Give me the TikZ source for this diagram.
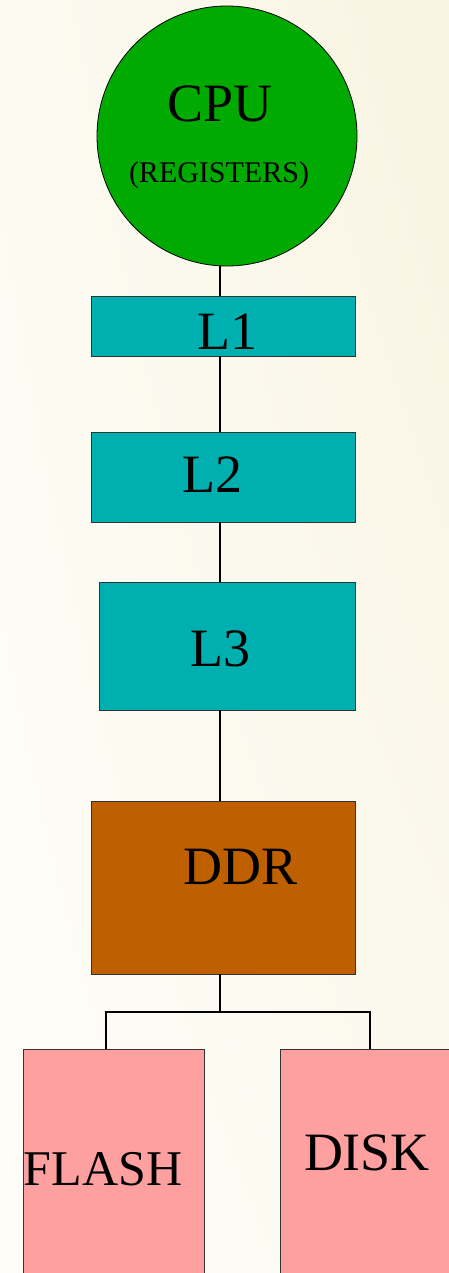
\documentclass[tikz,border=0pt]{standalone}
\usepackage{fontspec}
\setmainfont{Liberation Serif}
\usetikzlibrary{shadings}
\begin{document}
\begin{tikzpicture}[x=1pt,y=-1pt,
  box/.style={draw=black!80,line width=0.8pt,rectangle,inner sep=0pt},
  cache/.style={box,fill=cachecol},
  store/.style={box,fill=storecol},
  lbl/.style={anchor=base,inner sep=0pt,font=\fontsize{54}{60}\selectfont},
  wire/.style={line width=1.8pt,black}]
\definecolor{cpucol}{RGB}{0,170,0}
\definecolor{cachecol}{RGB}{0,176,176}
\definecolor{ddrcol}{RGB}{191,96,0}
\definecolor{storecol}{RGB}{255,160,160}
\definecolor{bgA}{RGB}{254,253,248}
\definecolor{bgB}{RGB}{248,244,226}
% page and soft cream background
\useasboundingbox (0,0) rectangle (449,1273);
\clip (0,0) rectangle (449,1273);
\shade[lower left=bgA,lower right=bgA!60!bgB,upper left=bgA!70!bgB,upper right=bgB]
  (0,0) rectangle (449,1273);
% memory hierarchy blocks
\node[circle,draw=black,line width=0.8pt,fill=cpucol,minimum size=260pt,inner sep=0pt] (cpu) at (227,136) {};
\node[cache,minimum width=264pt,minimum height=60pt]  (l1)  at (223,326)   {};
\node[cache,minimum width=264pt,minimum height=90pt]  (l2)  at (223,477)   {};
\node[cache,minimum width=256pt,minimum height=128pt] (l3)  at (227,646)   {};
\node[box,fill=ddrcol,minimum width=264pt,minimum height=173pt] (ddr) at (223,887.5) {};
\node[store,minimum width=181pt,minimum height=260pt,anchor=north] (flash) at (113.5,1049) {};
\node[store,minimum width=190pt,minimum height=260pt,anchor=north] (disk)  at (375,1049) {};
% labels
\node[lbl] (tcpu) at (220,122) {CPU};
\node[anchor=base,inner sep=0pt,font=\fontsize{30}{34}\selectfont] (treg) at (219,183) {(REGISTERS)};
\node[lbl] (tl1) at (227,349) {L1};
\node[lbl] (tl2) at (212,492) {L2};
\node[lbl] (tl3) at (220,666) {L3};
\node[lbl] (tddr) at (241,884) {DDR};
\node[anchor=base,inner sep=0pt,font=\fontsize{50}{56}\selectfont] (tflash) at (103,1185.5) {FLASH};
\node[lbl] (tdisk) at (367,1170) {DISK};
% connectors
\coordinate (spine) at (220,0);
\coordinate (bus) at (220,1012);
\coordinate (fdrop) at (106,1012);
\coordinate (ddrop) at (370,1012);
\draw[wire] (spine |- cpu.south) -- (spine |- l1.north);
\draw[wire] (spine |- l1.south) -- (spine |- l2.north);
\draw[wire] (spine |- l2.south) -- (spine |- l3.north);
\draw[wire] (spine |- l3.south) -- (spine |- ddr.north);
\draw[wire] (spine |- ddr.south) -- (bus);
\draw[wire] (fdrop |- flash.north) -- (fdrop) -- (ddrop) -- (ddrop |- disk.north);
\end{tikzpicture}
\end{document}
